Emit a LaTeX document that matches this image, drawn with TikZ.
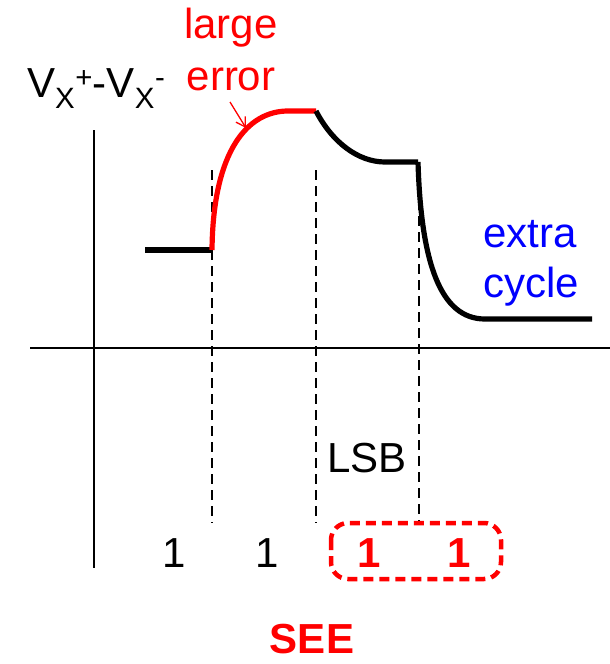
\documentclass[tikz,border=0pt]{standalone}
\usepackage{fontspec}
\setmainfont{Liberation Sans}
\usetikzlibrary{arrows.meta}
\definecolor{myred}{RGB}{255,0,0}
\definecolor{myblue}{RGB}{0,0,255}
\begin{document}
\begin{tikzpicture}[x=1pt,y=-1pt,
  axisline/.style={line width=2.6pt,black},
  sig/.style={line width=5.2pt,black},
  sigred/.style={line width=5.2pt,myred},
  vdash/.style={line width=1.4pt,dash pattern=on 10pt off 6pt},
  lbl/.style={inner sep=0pt,font=\fontsize{42}{50}\selectfont},
]
\useasboundingbox (0,0) rectangle (610,664);
% axes
\coordinate (ytop) at (94,130);
\coordinate (ybot) at (94,568);
\coordinate (xl) at (30,348);
\coordinate (xr) at (610,348);
\draw[axisline] (ytop) -- (ybot);
\draw[axisline] (xl) -- (xr);
% dashed lines
\coordinate (d1t) at (212,170); \coordinate (d1b) at (212,523);
\coordinate (d2t) at (316,170); \coordinate (d2b) at (316,523);
\coordinate (d3t) at (419,200); \coordinate (d3b) at (419,521);
\draw[vdash] (d1t) -- (d1b);
\draw[vdash] (d2t) -- (d2b);
\draw[vdash] (d3t) -- (d3b);
% signal
\coordinate (s0) at (145,250);
\coordinate (s1) at (212,250);
\coordinate (s2) at (288,111);
\coordinate (s3) at (316,111);
\coordinate (s4) at (385,162);
\coordinate (s5) at (418,162);
\coordinate (s6) at (485,319);
\coordinate (s7) at (592,319);
\draw[sig] (s0) -- (s1);
\draw[sigred,line cap=butt] (s1) .. controls (213,150) and (248,111) .. (s2) -- (s3);
\draw[sig] (s3) .. controls (332,142) and (358,162) .. (s4) -- (s5);
\draw[sig] (s5) .. controls (421,262) and (440,319) .. (s6) -- (s7);
% labels
\node[lbl,anchor=base west] (vx) at (27,97) {V\textsubscript{X}\textsuperscript{+}-V\textsubscript{X}\textsuperscript{-}};
\node[lbl,anchor=base,text=myred] (large) at (231,38) {large};
\node[lbl,anchor=base,text=myred] (error) at (231,90) {error};
\coordinate (arrtail) at (230,102);
\coordinate (arrtip) at (246,128);
\draw[myred,line width=1.3pt,-{Straight Barb[length=9pt,width=11pt]}] (arrtail) -- (arrtip);
\node[lbl,anchor=base,text=myblue] (extra) at (530,247) {extra};
\node[lbl,anchor=base,text=myblue] (cycle) at (531,297) {cycle};
\node[lbl,anchor=base] (lsb) at (367,472) {LSB};
\node[lbl,anchor=base] (b1) at (174,567) {1};
\node[lbl,anchor=base] (b2) at (267,567) {1};
\node[lbl,anchor=base,text=myred,font=\fontsize{42}{50}\selectfont\bfseries] (b3) at (369,567) {1};
\node[lbl,anchor=base,text=myred,font=\fontsize{42}{50}\selectfont\bfseries] (b4) at (459,567) {1};
\draw[myred,line width=4.5pt,dash pattern=on 10pt off 6pt,rounded corners=17pt] (331,523) rectangle (501,579);
\node[lbl,anchor=base,text=myred,font=\fontsize{42}{50}\selectfont\bfseries] (see) at (312,653) {SEE};
\end{tikzpicture}
\end{document}
